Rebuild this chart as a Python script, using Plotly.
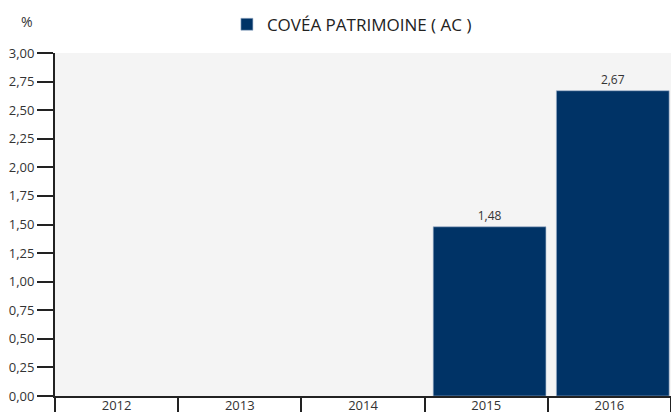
import plotly.graph_objects as go

years = ["2012", "2013", "2014", "2015", "2016"]
values = [None, None, None, 1.48, 2.67]
series_name = "COVÉA PATRIMOINE ( AC )"
y_ticks = [0, 0.25, 0.5, 0.75, 1.0, 1.25, 1.5, 1.75, 2.0, 2.25, 2.5, 2.75, 3.0]

font_family = "Open Sans, Noto Sans, sans-serif"
dark = "#222222"

fig = go.Figure()
fig.add_trace(go.Bar(
    x=years, y=values, name=series_name,
    marker=dict(color="#003366", line=dict(color="#9fb3cc", width=0.6)),
    width=0.915, offset=-0.43,
    texttemplate="%{y:.2f}", textposition="outside",
    textfont=dict(size=12, color="#333333", family=font_family),
    cliponaxis=False, showlegend=True,
))

fig.update_layout(
    width=671, height=412,
    margin=dict(l=55, r=0, t=53, b=16, autoexpand=False),
    paper_bgcolor="white", plot_bgcolor="#f4f4f4",
    separators=", ",
    font=dict(family=font_family, color=dark, size=13),
    showlegend=True,
    legend=dict(orientation="h", x=0.482, xanchor="center", y=0.94, yanchor="middle",
                yref="container",
                font=dict(size=17, color="#222222"),
                bgcolor="rgba(0,0,0,0)"),
    xaxis=dict(
        type="category", showgrid=False, ticks="outside", tickson="boundaries",
        ticklen=18, tickwidth=1.5, tickcolor=dark, showline=True, linecolor=dark,
        linewidth=2, ticklabelstandoff=-4, tickfont=dict(size=13, color="#333333"),
        automargin=False,
    ),
    yaxis=dict(
        range=[0, 3], tickvals=y_ticks, tickformat=".2f", showgrid=False,
        zeroline=False, ticks="outside", ticklen=16, tickwidth=1.5, tickcolor=dark,
        showline=True, linecolor=dark, linewidth=2,
        tickfont=dict(size=13, color="#333333"), automargin=False,
    ),
    annotations=[dict(text="%", xref="paper", yref="paper", x=-0.0455, y=1.093,
                      xanchor="center", yanchor="middle", showarrow=False,
                      font=dict(size=14, color="#333333"))],
)

fig.write_html(
    "out.html",
    config={"displayModeBar": False},
    post_script="document.body.style.margin='0';document.body.style.overflow='hidden';",
)
